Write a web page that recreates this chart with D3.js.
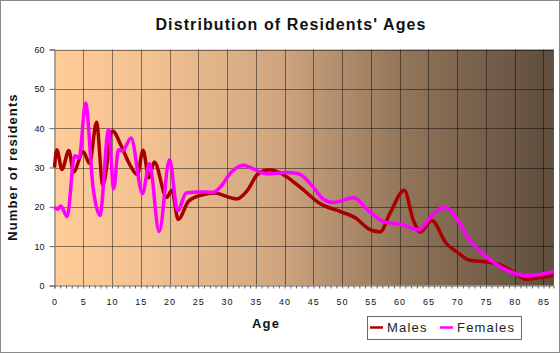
<!DOCTYPE html>
<html>
<head>
<meta charset="utf-8">
<script src="https://cdn.jsdelivr.net/npm/d3@7"></script>
<style>
  html, body { margin: 0; padding: 0; background: #fff; }
  svg { display: block; font-family: 'Liberation Sans', Arial, sans-serif; }
</style>
</head>
<body>
<svg id="chart" width="560" height="353"></svg>
<script>
// ------------------
// Data
// ------------------
const maleAges = [0, 0.4, 1.3, 2.5, 3.3, 5, 6.1, 7.3, 8.4, 10.1, 11.6, 13, 14.4, 15.4, 16.4, 17.35, 19.5, 20.4, 21.5, 23.3, 25.6, 27.9, 29.6, 31.7, 33.5, 35.4, 37.4, 39.5, 42.7, 46.2, 49.7, 52.3, 54.6, 56.6, 58.4, 60.8, 62.4, 63.6, 65.6, 68.1, 69.9, 72.2, 75.1, 77.4, 79.7, 82, 84.4, 86.7]
const maleCounts = [30, 34.5, 29.5, 34.3, 28.9, 34, 31, 41.5, 25.6, 39.3, 35.5, 31, 28.2, 34.4, 27.4, 31.4, 22.4, 24.2, 16.8, 21.4, 23, 23.5, 22.8, 22, 24.1, 28.4, 29.4, 28.4, 25, 20.8, 18.8, 17.2, 14.4, 13.6, 18.6, 24.2, 16.5, 13.6, 16.5, 10.7, 8.6, 6.4, 6, 5.3, 3.5, 1.6, 2, 2.6]

const femaleAges = [0, 0.5, 1.1, 2.2, 3.5, 4.3, 5.4, 6.7, 7.9, 9.4, 10.3, 11.1, 11.8, 13.3, 15.3, 16.5, 18.2, 20, 21.4, 22.9, 25.2, 27.6, 28.8, 30.8, 32.8, 34.5, 36.8, 40.3, 42.4, 45, 46.7, 48.5, 52, 54.6, 57.5, 60.4, 63.3, 65.6, 67.9, 69.3, 72.2, 75.1, 78.6, 82, 84.4, 86.7]
const femaleCounts = [20, 19.4, 20.2, 17.5, 33, 32.5, 46.4, 25, 17.8, 39.6, 24.6, 34.5, 34.2, 37.5, 23.4, 31, 13.7, 32, 19, 23.5, 23.8, 23.7, 25, 28.9, 30.6, 29.7, 28.4, 28.7, 28.4, 25, 22, 21.1, 22.3, 19, 16.1, 15.5, 14.2, 17.75, 20, 18.3, 11.5, 7.3, 3.9, 2.5, 2.8, 3.5]

const xTickLabels = [0, 5, 10, 15, 20, 25, 30, 35, 40, 45, 50, 55, 60, 65, 70, 75, 80, 85]
const yTickLabels = [0, 10, 20, 30, 40, 50, 60]
const seriesNames = ['Males', 'Females']
const seriesColors = ['#a80000', '#ff00ff']

const svg = d3.select('#chart')
const width = 560
const height = 353

const plot = { left: 54.5, right: 553.5, top: 49.5, bottom: 285.5 }

// Border round the picture
svg.append('rect')
  .attr('x', 0.5).attr('y', 0.5)
  .attr('width', width - 1).attr('height', height - 1)
  .attr('fill', '#fff')
  .attr('stroke', '#8a8a8a')

// ------------------
// Title
// ------------------
svg.append('text')
  .attr('x', 291)
  .attr('y', 30)
  .attr('text-anchor', 'middle')
  .attr('font-weight', 'bold')
  .attr('font-size', 16)
  .attr('letter-spacing', 1.1)
  .attr('fill', '#111')
  .text("Distribution of Residents' Ages")

// ------------------
// Scales
// ------------------
const x = d3.scaleLinear().domain([0, 86.75]).range([plot.left, plot.right])
const y = d3.scaleLinear().domain([0, 60]).range([plot.bottom, plot.top])

// ------------------
// Background gradient
// ------------------
const grad = svg.append('defs').append('linearGradient')
  .attr('id', 'bg').attr('x1', '0%').attr('x2', '100%').attr('y1', '0%').attr('y2', '0%')
const stops = [[0, '#ffcc99'], [0.2, '#f2c192'], [0.45, '#cfa57f'], [0.7, '#917559'], [1, '#5e4d3d']]
stops.forEach(([o, c]) => grad.append('stop').attr('offset', o).attr('stop-color', c))

svg.append('rect')
  .attr('x', plot.left).attr('y', plot.top)
  .attr('width', plot.right - plot.left).attr('height', plot.bottom - plot.top)
  .attr('fill', 'url(#bg)')

// ------------------
// Grid
// ------------------
const grid = svg.append('g')
  .attr('stroke', '#000')
  .attr('stroke-opacity', 0.45)
  .attr('stroke-width', 1)

grid.selectAll('.vg')
  .data(xTickLabels.filter(d => d > 0))
  .enter().append('line')
  .attr('x1', d => Math.round(x(d)) + 0.5).attr('x2', d => Math.round(x(d)) + 0.5)
  .attr('y1', plot.top).attr('y2', plot.bottom)

grid.selectAll('.hg')
  .data(yTickLabels.filter(d => d > 0))
  .enter().append('line')
  .attr('x1', plot.left).attr('x2', plot.right)
  .attr('y1', d => Math.round(y(d)) + 0.5).attr('y2', d => Math.round(y(d)) + 0.5)

grid.append('line')
  .attr('x1', plot.right).attr('x2', plot.right)
  .attr('y1', plot.top).attr('y2', plot.bottom)

// ------------------
// Axes
// ------------------
const xAxis = svg.append('g')
  .attr('transform', `translate(0,${plot.bottom})`)
  .call(d3.axisBottom(x).tickValues(d3.range(0, 87)).tickSize(3).tickFormat(''))
xAxis.select('.domain').attr('stroke', '#666')
xAxis.selectAll('.tick line').attr('stroke', '#666')

svg.append('g')
  .selectAll('text')
  .data(xTickLabels)
  .enter().append('text')
  .attr('x', d => x(d) + 0.5)
  .attr('y', 305)
  .attr('text-anchor', 'middle')
  .attr('font-size', 9)
  .attr('letter-spacing', 1)
  .attr('fill', '#111')
  .text(d => d)

const yAxis = svg.append('g')
  .attr('transform', `translate(${plot.left},0)`)
  .call(d3.axisLeft(y).tickValues(yTickLabels).tickSize(5).tickPadding(5))
yAxis.select('.domain').attr('stroke', '#666')
yAxis.selectAll('.tick line').attr('stroke', '#666')
yAxis.selectAll('.tick text')
  .attr('font-size', 9)
  .attr('font-family', 'Liberation Sans, Arial, sans-serif')
  .attr('fill', '#111')

// Axis labels
svg.append('text')
  .attr('x', 266)
  .attr('y', 328)
  .attr('text-anchor', 'middle')
  .attr('font-weight', 'bold')
  .attr('font-size', 13)
  .attr('letter-spacing', 1.2)
  .attr('fill', '#111')
  .text('Age')

svg.append('text')
  .attr('transform', 'translate(17,167) rotate(-90)')
  .attr('text-anchor', 'middle')
  .attr('font-weight', 'bold')
  .attr('font-size', 13)
  .attr('letter-spacing', 1.1)
  .attr('fill', '#111')
  .text('Number of residents')

// ------------------
// Lines
// ------------------
const line = d3.line()
  .x(d => x(d[0]))
  .y(d => y(d[1]))
  .curve(d3.curveMonotoneX)

const males = maleAges.map((a, i) => [a, maleCounts[i]])
const females = femaleAges.map((a, i) => [a, femaleCounts[i]])

svg.append('path')
  .datum(males)
  .attr('fill', 'none')
  .attr('stroke', seriesColors[0])
  .attr('stroke-width', 3.5)
  .attr('stroke-linejoin', 'round')
  .attr('d', line)

svg.append('path')
  .datum(females)
  .attr('fill', 'none')
  .attr('stroke', seriesColors[1])
  .attr('stroke-width', 3.5)
  .attr('stroke-linejoin', 'round')
  .attr('d', line)

// ------------------
// Legend
// ------------------
const legend = svg.append('g')

legend.append('rect')
  .attr('x', 367.5).attr('y', 316.5)
  .attr('width', 154).attr('height', 23)
  .attr('fill', '#fff')
  .attr('stroke', '#666')

const legendX = [370, 440]
seriesNames.forEach((name, i) => {
  legend.append('line')
    .attr('x1', legendX[i]).attr('x2', legendX[i] + 13)
    .attr('y1', 327.5).attr('y2', 327.5)
    .attr('stroke', seriesColors[i])
    .attr('stroke-width', 2.5)
  legend.append('text')
    .attr('x', legendX[i] + 17)
    .attr('y', 332)
    .attr('font-size', 13)
    .attr('letter-spacing', 1.2)
    .attr('fill', '#222')
    .text(name)
})
</script>
</body>
</html>
